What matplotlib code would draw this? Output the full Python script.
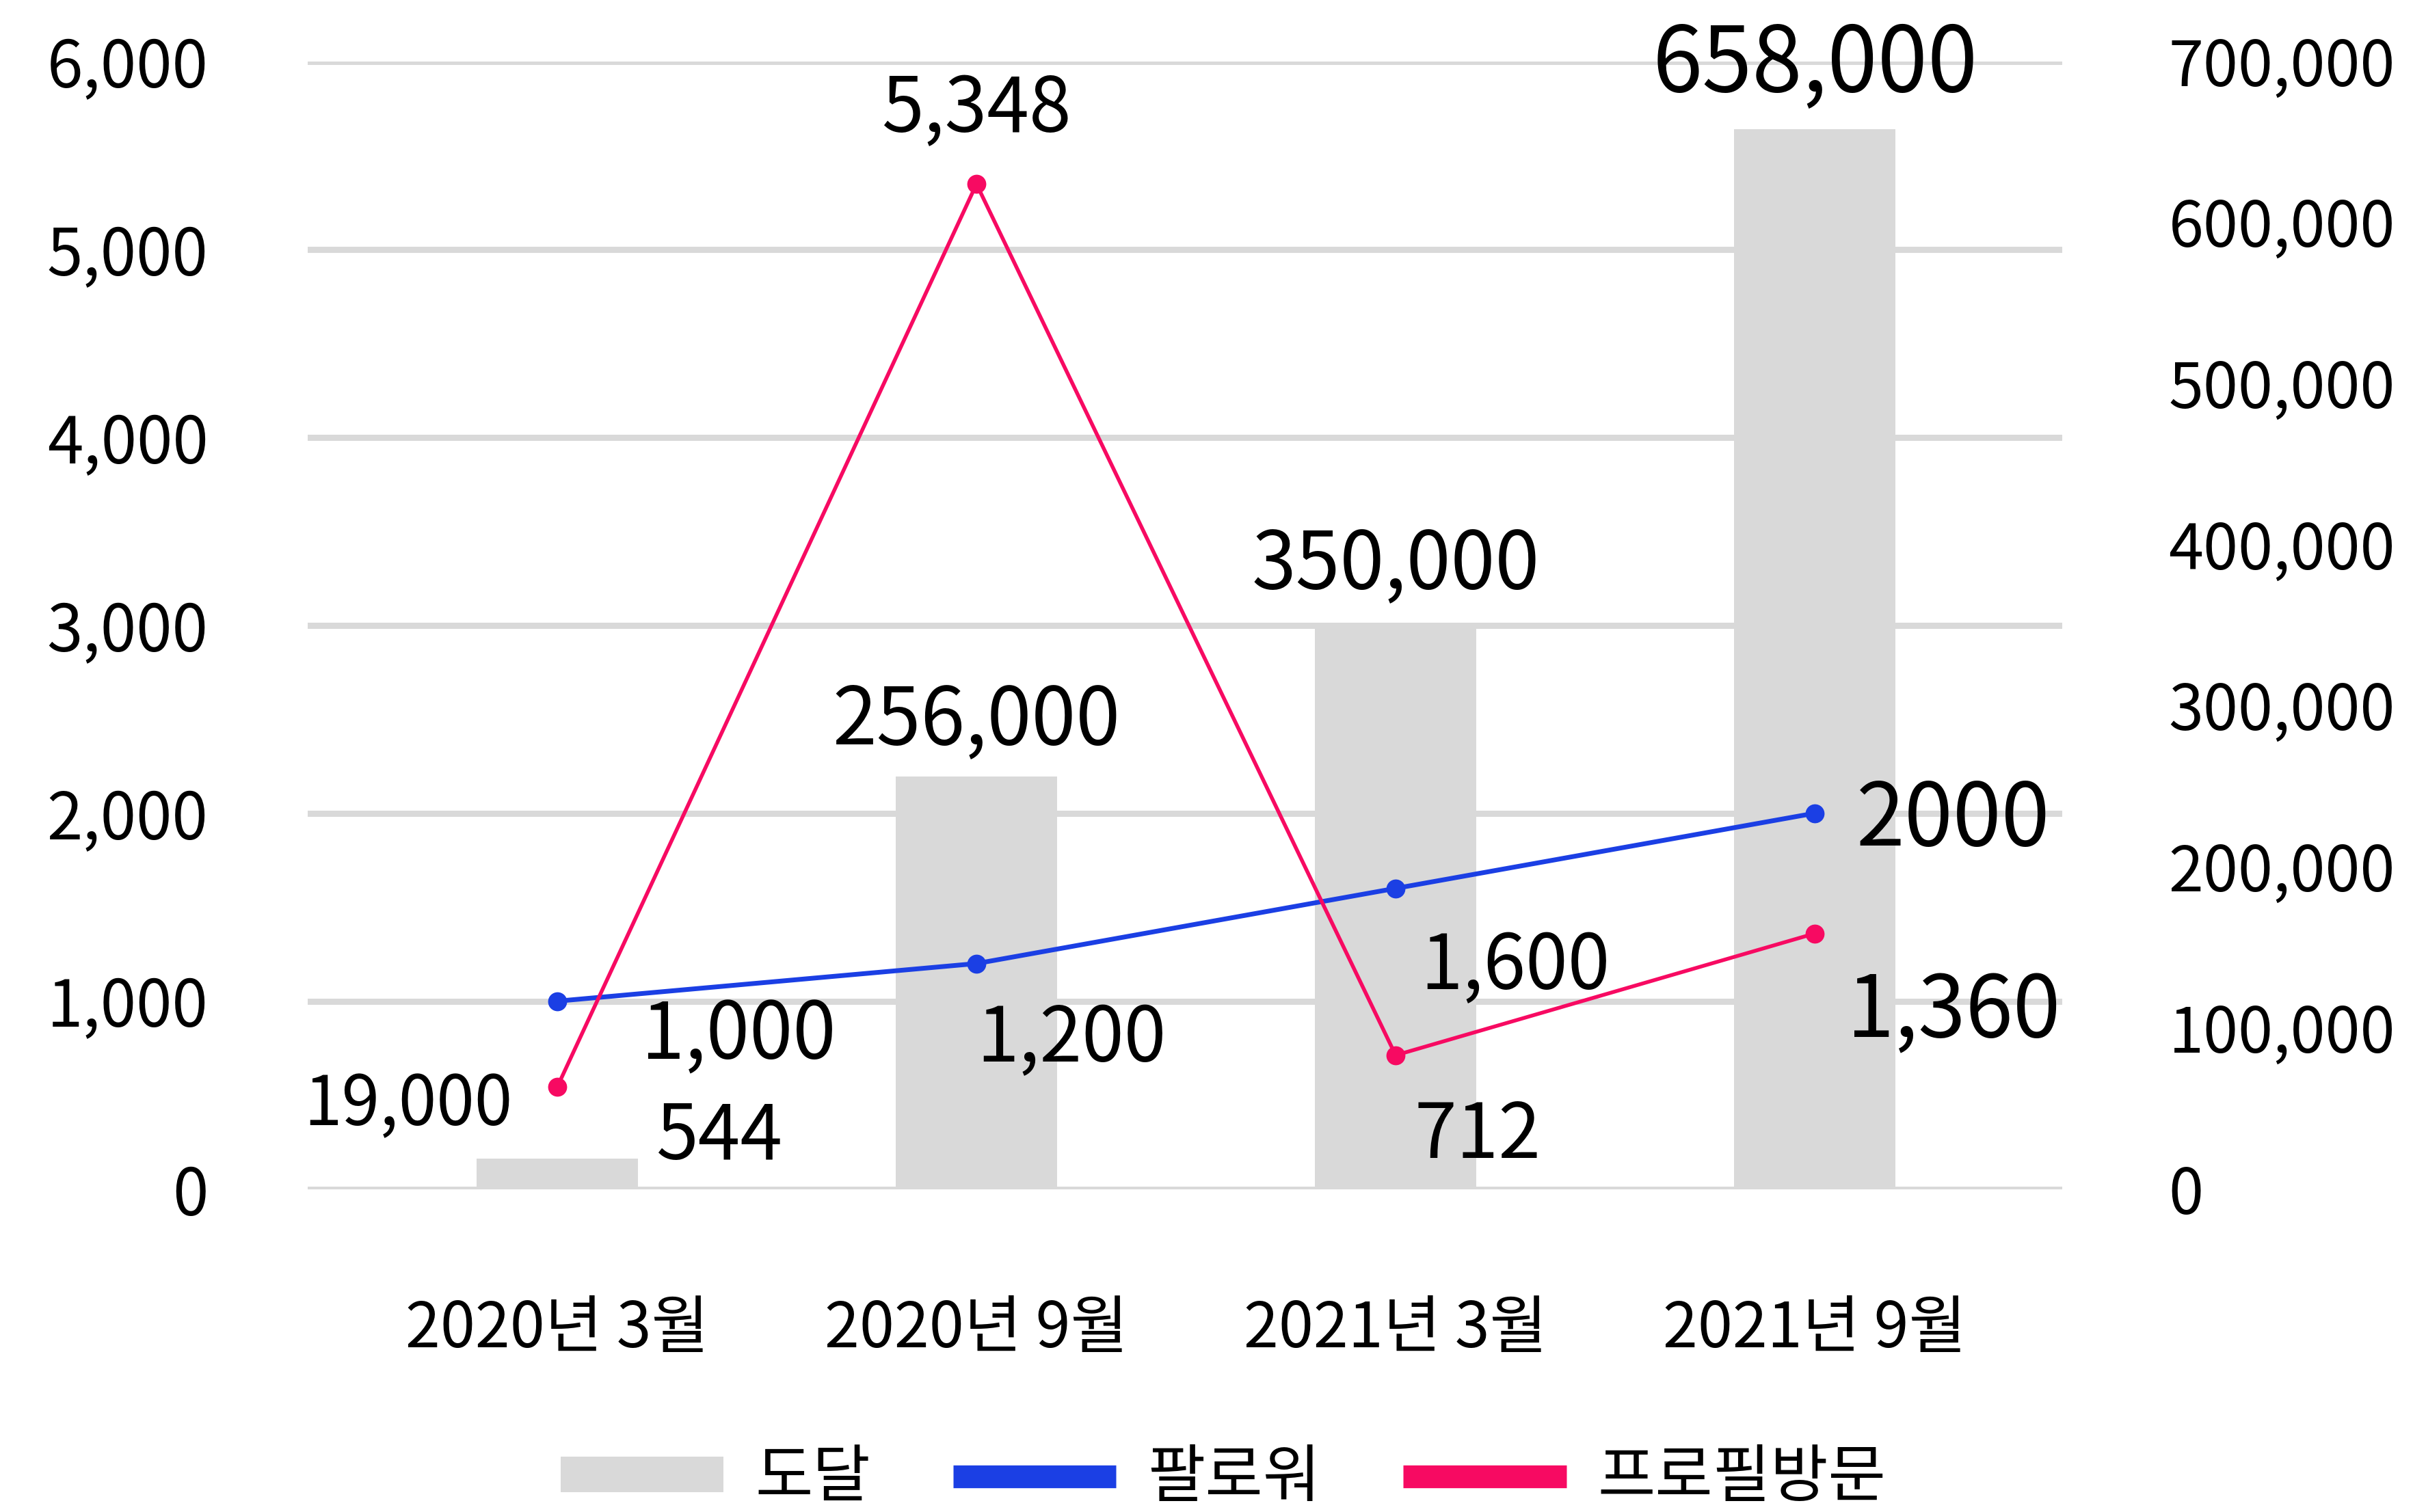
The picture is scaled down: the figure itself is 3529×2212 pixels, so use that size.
import numpy as np
import matplotlib
matplotlib.use("Agg")
import matplotlib.pyplot as plt
from matplotlib.lines import Line2D
from matplotlib.patches import Patch
from matplotlib.ticker import FuncFormatter

plt.rcParams['font.family'] = ['Noto Sans CJK KR', 'DejaVu Sans']

# --- data ---
periods = ["2020년 3월", "2020년 9월", "2021년 3월", "2021년 9월"]
reach = [19000, 256000, 350000, 658000]          # 도달 (right axis, bars)
followers = [1000, 1200, 1600, 2000]             # 팔로워 (left axis)
profile_visits = [544, 5348, 712, 1360]          # 프로필방문 (left axis)

reach_labels = ["19,000", "256,000", "350,000", "658,000"]
follower_labels = ["1,000", "1,200", "1,600", "2000"]
visit_labels = ["544", "5,348", "712", "1,360"]

GRAY = "#d9d9d9"
BLUE = "#1b3fe4"
PINK = "#f70a62"

fig = plt.figure(figsize=(35.29, 22.12), dpi=100)
axb = fig.add_axes([0.1276, 0.2136, 0.7270, 0.7457])   # bars, right scale
ax = axb.twinx()                                        # lines, left scale
ax.yaxis.tick_left()
axb.yaxis.tick_right()
ax.set_zorder(axb.get_zorder() + 1)
ax.patch.set_visible(False)

x = np.arange(len(periods))

# bars
axb.bar(x, reach, width=0.385, color=GRAY, zorder=2)
axb.set_ylim(0, 700000)
axb.set_yticks(np.arange(0, 700001, 100000))
axb.yaxis.set_major_formatter(FuncFormatter(lambda v, p: f"{v:,.0f}"))
# gridlines follow the left scale (0..6000 step 1000), drawn behind bars
axb.yaxis.remove_overlapping_locs = False
axb.set_yticks(np.arange(0, 7) * 700000 / 6, minor=True)
axb.grid(which="minor", axis="y", color=GRAY, lw=6.5)
axb.grid(which="major", visible=False)
axb.set_axisbelow(True)
axb.tick_params(axis="y", which="both", length=0)
axb.tick_params(axis="y", which="major", labelsize=66, pad=112)
for lbl in axb.get_yticklabels():
    lbl.set_horizontalalignment("left")

axb.set_xlim(-0.595, 3.59)
axb.set_xticks(x)
axb.set_xticklabels(periods)
axb.tick_params(axis="x", length=0, labelsize=66, pad=114)

# lines
ax.plot(x, followers, color=BLUE, lw=5, marker="o", ms=19, zorder=3)
ax.plot(x, profile_visits, color=PINK, lw=4, marker="o", ms=19, zorder=3)
ax.set_ylim(0, 6000)
ax.set_yticks(np.arange(0, 6001, 1000))
ax.yaxis.set_major_formatter(FuncFormatter(lambda v, p: f"{v:,.0f}"))
ax.tick_params(axis="y", length=0, labelsize=68, pad=105)

for a in (ax, axb):
    for s in a.spines.values():
        s.set_visible(False)

# data labels
bar_offsets = [(-157, 56), (0, 58), (0, 62), (0, 67)]
bar_sizes = [72, 84, 84, 95]
for xi, v, t, off, fs in zip(x, reach, reach_labels, bar_offsets, bar_sizes):
    axb.annotate(t, (xi, v), xytext=off, textcoords="offset points",
                 ha="center", va="center", fontsize=fs, zorder=4)

fol_offsets = [(191, -37), (100, -80), (126, -83), (146, -8)]
fol_sizes = [82, 80, 80, 92]
for xi, v, t, off, fs in zip(x, followers, follower_labels, fol_offsets, fol_sizes):
    ax.annotate(t, (xi, v), xytext=off, textcoords="offset points",
                ha="center", va="center", fontsize=fs)

vis_offsets = [(170, -53), (0, 78), (86, -85), (146, -84)]
vis_sizes = [80, 80, 80, 90]
for xi, v, t, off, fs in zip(x, profile_visits, visit_labels, vis_offsets, vis_sizes):
    ax.annotate(t, (xi, v), xytext=off, textcoords="offset points",
                ha="center", va="center", fontsize=fs)

# legend
handles = [Patch(facecolor=GRAY, edgecolor="none"),
           Line2D([], [], color=BLUE, lw=24, solid_capstyle="butt"),
           Line2D([], [], color=PINK, lw=24, solid_capstyle="butt")]
fig.legend(handles, ["도달", "팔로워", "프로필방문"], loc="center",
           bbox_to_anchor=(0.507, 0.022), ncol=3, frameon=False,
           fontsize=66, handlelength=2.6, handleheight=0.5,
           handletextpad=0.5, columnspacing=1.32)

fig.savefig("out.png", dpi=100)
